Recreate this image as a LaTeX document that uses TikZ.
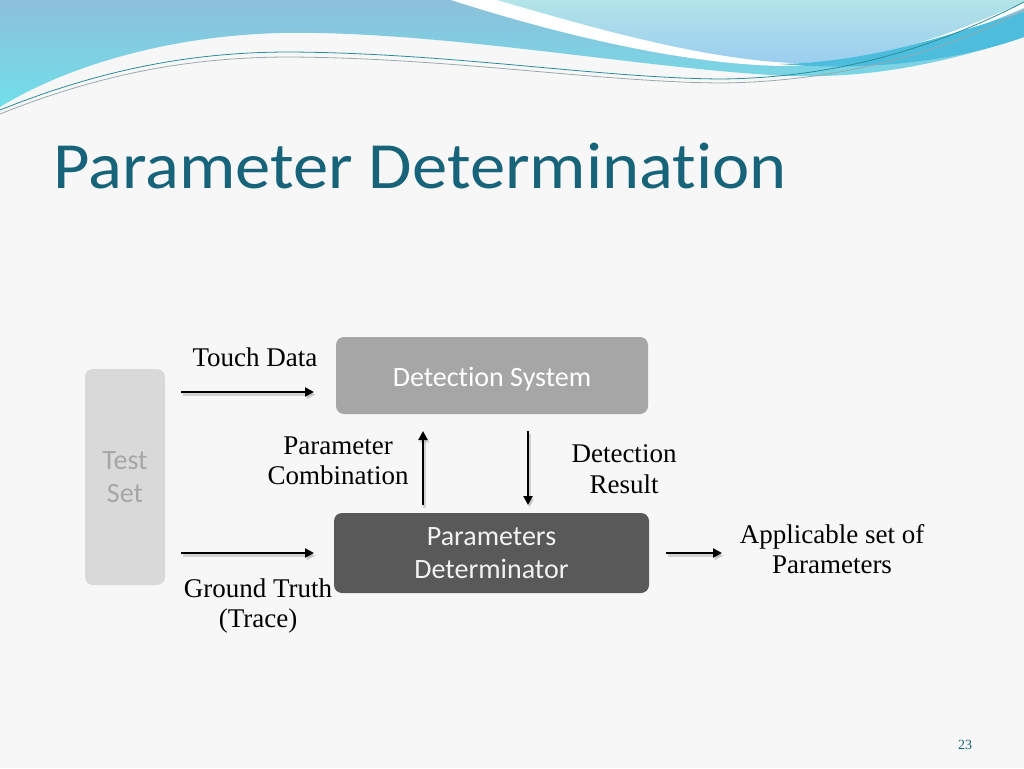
\documentclass[tikz,border=0pt]{standalone}
\usepackage{fontspec}
\setmainfont{Liberation Serif}
\newfontfamily\calibri[Ligatures=NoCommon]{Carlito}
\newfontfamily\calibriwide[Ligatures=NoCommon,FakeStretch=1.07]{Carlito}
\usetikzlibrary{arrows.meta}
\definecolor{titleteal}{HTML}{17637A}
\definecolor{bgc}{HTML}{F7F7F7}
\definecolor{lightbox}{HTML}{D9D9D9}
\definecolor{midbox}{HTML}{A6A6A6}
\definecolor{darkbox}{HTML}{595959}
\definecolor{wavetop}{HTML}{8CC0DA}
\definecolor{wavebot}{HTML}{70DFEA}
\definecolor{rtop}{HTML}{B2E4E8}
\definecolor{rbot}{HTML}{9BCDF0}
\definecolor{dband}{HTML}{4CBDDC}
\definecolor{line1}{HTML}{2A8C9A}
\definecolor{line2}{HTML}{9AA8B0}
\begin{document}
\begin{tikzpicture}[x=1pt,y=-1pt,
  box/.style={rounded corners=8pt, inner sep=0pt, align=center,
     font=\calibri\fontsize{28}{33.5}\selectfont},
  lbl/.style={align=center, inner sep=0pt, font=\fontsize{27}{30.5}\selectfont},
  arr/.style={line width=2.4pt, -{Triangle[length=9pt,width=9pt]},
     preaction={draw=black!35, opacity=0.45, line width=3pt,
       transform canvas={shift={(1.5pt,-2.5pt)}}}}]
\useasboundingbox (0,0) rectangle (1024,768);
\fill[bgc] (0,0) rectangle (1024,768);
% top waves
\shade[top color=wavetop, bottom color=wavebot]
  (0,0) -- (1024,0) -- (1024,37) .. controls (930,68) and (860,78) .. (790,76)
  .. controls (650,70) and (440,30) .. (281,33)
  .. controls (160,36) and (60,70) .. (0,107) -- cycle;
\fill[white] (451,0) .. controls (560,35) and (690,66) .. (790,66)
  .. controls (880,64) and (960,35) .. (1024,8) -- (1024,0) -- cycle;
\shade[top color=rtop, bottom color=rbot]
  (497,0) .. controls (600,30) and (700,58) .. (790,63)
  .. controls (880,64) and (960,30) .. (1024,2) -- (1024,0) -- cycle;
\fill[dband] (780,64) .. controls (880,62) and (960,30) .. (1024,12)
  -- (1024,37) .. controls (960,60) and (870,72) .. (780,64) -- cycle;
\draw[line1, line width=0.8pt] (0,110) .. controls (100,70) and (190,52) .. (290,52)
  .. controls (450,53) and (600,78) .. (720,79) .. controls (850,78) and (950,40) .. (1024,2);
\draw[line2, line width=0.8pt] (0,114) .. controls (100,74) and (190,57) .. (290,57)
  .. controls (450,58) and (600,82) .. (720,83) .. controls (850,82) and (960,45) .. (1024,10);
% title
\node[anchor=base west, inner sep=0pt, text=titleteal,
  font=\calibriwide\fontsize{66}{70}\selectfont] (title) at (53,188) {Parameter Determination};
% boxes
\node[box, fill=lightbox, text=midbox, minimum width=80pt, minimum height=216pt]
  (test) at (125,477) {Test\\Set};
\node[box, fill=midbox, text=white, minimum width=312pt, minimum height=77pt]
  (det) at (492,375.5) {\raisebox{-4pt}[\height][\depth]{Detection System}};
\node[box, fill=darkbox, text=white!95!black, minimum width=315pt, minimum height=80pt]
  (pd) at (491.5,553) {Parameters\\Determinator};
% arrows
\coordinate (a1s) at (181,392); \coordinate (a1e) at (314,392);
\coordinate (a2s) at (181,553); \coordinate (a2e) at (314,553);
\coordinate (a3s) at (423,505); \coordinate (a3e) at (423,431);
\coordinate (a4s) at (528,431); \coordinate (a4e) at (528,505);
\coordinate (a5s) at (666,553); \coordinate (a5e) at (722,553);
\draw[arr] (a1s) -- (a1e);
\draw[arr] (a2s) -- (a2e);
\draw[arr] (a3s) -- (a3e);
\draw[arr] (a4s) -- (a4e);
\draw[arr] (a5s) -- (a5e);
% labels
\node[lbl] (ltouch) at (255,357) {Touch Data};
\node[lbl] (lpc) at (338,461) {Parameter\\Combination};
\node[lbl] (ldr) at (624,469) {Detection\\Result};
\node[lbl] (lgt) at (258,606) {Ground Truth\\(Trace)};
\node[lbl] (lap) at (832,549) {Applicable set of\\Parameters};
\node[inner sep=0pt, text=titleteal, font=\fontsize{14}{16}\selectfont] (pnum) at (965,745) {23};
\end{tikzpicture}
\end{document}
